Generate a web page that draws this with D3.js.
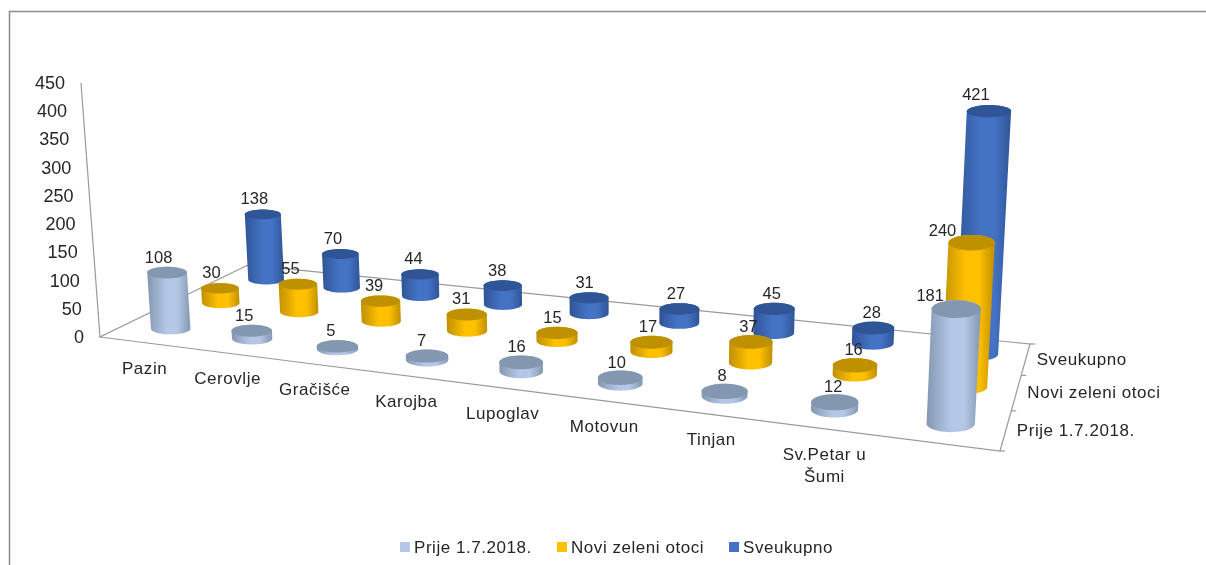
<!DOCTYPE html>
<html>
<head>
<meta charset="utf-8">
<script src="https://cdn.jsdelivr.net/npm/d3@7/dist/d3.min.js"></script>
<style>
  html, body { margin: 0; padding: 0; background: #fff; overflow: hidden; }
  svg { filter: blur(0.4px); }
  text { font-family: "Liberation Sans", Arial, sans-serif; fill: #262626; }
</style>
</head>
<body>
<div id="chart"></div>
<script>
const categories = ["Pazin", "Cerovlje", "Gračišće", "Karojba", "Lupoglav", "Motovun", "Tinjan", "Sv.Petar u|Šumi", ""];
const seriesNames = ["Prije 1.7.2018.", "Novi zeleni otoci", "Sveukupno"];
const prije = [108, 15, 5, 7, 16, 10, 8, 12, 181];
const novi = [30, 55, 39, 31, 15, 17, 37, 16, 240];
const sveukupno = [138, 70, 44, 38, 31, 27, 45, 28, 421];
const valueTicks = [0, 50, 100, 150, 200, 250, 300, 350, 400, 450];

const values = [prije, novi, sveukupno];
const sideEdge = ["#8497b0", "#bf9000", "#2f5597"];
const sideMid = ["#b4c7e7", "#ffc000", "#4472c4"];
const topColor = ["#8497b0", "#bf9000", "#2f5597"];

const width = 1206, height = 565;
const svg = d3.select("#chart").append("svg").attr("width", width).attr("height", height);

// floor corners on screen: front-left, front-right, back-right, back-left
const floor = { fl: [100, 337], fr: [1000, 451], br: [1030, 344], bl: [248, 265] };
const vanish = [624, 7344]; // where the verticals meet
const heightK = -7.45e-5;

// homography unit square -> floor quad
const dx1 = floor.fr[0] - floor.br[0], dy1 = floor.fr[1] - floor.br[1];
const dx2 = floor.bl[0] - floor.br[0], dy2 = floor.bl[1] - floor.br[1];
const sx = floor.fl[0] - floor.fr[0] + floor.br[0] - floor.bl[0];
const sy = floor.fl[1] - floor.fr[1] + floor.br[1] - floor.bl[1];
const det = dx1 * dy2 - dx2 * dy1;
const g = (sx * dy2 - dx2 * sy) / det;
const h = (dx1 * sy - sx * dy1) / det;

function project(u, v, val) {
  const w = 1 + g * u + h * v;
  const nx = (floor.fr[0] * (1 + g) - floor.fl[0]) * u + (floor.bl[0] * (1 + h) - floor.fl[0]) * v + floor.fl[0];
  const ny = (floor.fr[1] * (1 + g) - floor.fl[1]) * u + (floor.bl[1] * (1 + h) - floor.fl[1]) * v + floor.fl[1];
  const t = heightScale(val);
  return [(nx + vanish[0] * t) / (w + t), (ny + vanish[1] * t) / (w + t)];
}

const uScale = d3.scaleBand().domain(categories.map((d, i) => i)).range([0.005, 1.005]);
const vScale = d3.scaleBand().domain(seriesNames).range([0, 1]);
const heightScale = d3.scaleLinear().domain([0, 450]).range([0, 450 * heightK]);
const wallX = d3.scaleLinear().domain([0, 450]).range([100, 81]);
const wallY = d3.scaleLinear().domain([0, 450]).range([337, 83]);

// chart frame, only top and left show in the crop
svg.append("path").attr("d", "M1206,11.5H9.5V565").attr("fill", "none")
  .attr("stroke", "#8c8c8c").attr("stroke-width", 1.5);

// floor edges and wall line
const edges = svg.append("g").attr("stroke", "#9a9a9a").attr("stroke-width", 1.2).attr("fill", "none");
edges.append("path").attr("d", d3.line()([floor.bl, floor.fl, floor.fr, floor.br, floor.bl]));
edges.append("line").attr("x1", wallX(0)).attr("y1", wallY(0)).attr("x2", wallX(450)).attr("y2", wallY(450));
d3.range(4).forEach((i) => {
  const p = project(1, i / 3, 0);
  edges.append("line").attr("x1", p[0]).attr("y1", p[1]).attr("x2", p[0] + 5).attr("y2", p[1]);
});

// value axis labels
svg.append("g").selectAll("text").data(valueTicks).enter().append("text")
  .attr("x", (d) => wallX(d) - 16)
  .attr("y", (d) => wallY(d))
  .attr("text-anchor", "end")
  .attr("dominant-baseline", "central")
  .attr("font-size", 18)
  .text((d) => d);

// category labels under the front edge
categories.forEach((name, i) => {
  const p = project(uScale(i) + uScale.bandwidth() / 2, 0, 0);
  const t = svg.append("text").attr("text-anchor", "middle").attr("font-size", 17).attr("letter-spacing", 0.55);
  name.split("|").forEach((line, k) => {
    t.append("tspan").attr("x", p[0] + 1).attr("y", p[1] + 31 + k * 22).text(line);
  });
});

// series labels along the right edge
seriesNames.forEach((name) => {
  const p = project(1, vScale(name) + vScale.bandwidth() / 2, 0);
  svg.append("text").attr("x", p[0] + 11).attr("y", p[1])
    .attr("dominant-baseline", "central").attr("font-size", 17).attr("letter-spacing", 0.55).text(name);
});

const defs = svg.append("defs");
seriesNames.forEach((name, s) => {
  const grad = defs.append("linearGradient").attr("id", `side${s}`).attr("x1", 0).attr("x2", 1).attr("y1", 0).attr("y2", 0);
  grad.append("stop").attr("offset", "0%").attr("stop-color", sideEdge[s]);
  grad.append("stop").attr("offset", "45%").attr("stop-color", sideMid[s]);
  grad.append("stop").attr("offset", "70%").attr("stop-color", sideMid[s]);
  grad.append("stop").attr("offset", "100%").attr("stop-color", sideEdge[s]);
});

// floor ring that shows as a level ellipse on screen; tall tops get a bit more depth
function ringOffsets(u, v, val) {
  const w = 1 + g * u + h * v;
  const rx = 20 / w, ry = (5.8 / (w * w)) * (1 + val * 0.0015);
  const e = 0.001;
  const p0 = project(u, v, 0), pu = project(u + e, v, 0), pv = project(u, v + e, 0);
  const a = (pu[0] - p0[0]) / e, b = (pv[0] - p0[0]) / e;
  const c = (pu[1] - p0[1]) / e, d = (pv[1] - p0[1]) / e;
  const dt = a * d - b * c;
  return d3.range(48).map((i) => {
    const t = (i / 48) * 2 * Math.PI;
    const ex = rx * Math.cos(t), ey = ry * Math.sin(t);
    return [(d * ex - b * ey) / dt, (a * ey - c * ex) / dt];
  });
}

const lastLabelDx = [-26, -29, -13];
const lastLabelDy = [-14, -13, -17];
const labels = [];

// back row first so the nearer cylinders overlap it
[2, 1, 0].forEach((s) => {
  const v = vScale(seriesNames[s]) + vScale.bandwidth() / 2;
  values[s].forEach((val, i) => {
    const u = uScale(i) + uScale.bandwidth() / 2;
    const base = ringOffsets(u, v, 0).map((o) => project(u + o[0], v + o[1], 0));
    const top = ringOffsets(u, v, val).map((o) => project(u + o[0], v + o[1], val));
    const hull = d3.polygonHull(base.concat(top));
    const cyl = svg.append("g");
    cyl.append("path").attr("d", `M${hull.join("L")}Z`).attr("fill", `url(#side${s})`);
    cyl.append("path").attr("d", `M${top.join("L")}Z`).attr("fill", topColor[s]);
    const c = project(u, v, val);
    const last = i === categories.length - 1;
    labels.push({ x: c[0] + (last ? lastLabelDx[s] : -9 + 9 * u), y: c[1] + (last ? lastLabelDy[s] : -16), val });
  });
});

svg.append("g").selectAll("text").data(labels).enter().append("text")
  .attr("x", (d) => d.x)
  .attr("y", (d) => d.y)
  .attr("text-anchor", "middle")
  .attr("dominant-baseline", "central")
  .attr("font-size", 16.5)
  .text((d) => d.val);

// legend
const legendX = [400, 557, 729];
const legend = svg.append("g").selectAll("g").data(seriesNames).enter().append("g")
  .attr("transform", (d, i) => `translate(${legendX[i]}, 547)`);
legend.append("rect").attr("x", 0).attr("y", -5).attr("width", 10).attr("height", 10)
  .attr("fill", (d, i) => sideMid[i]);
legend.append("text").attr("x", 14).attr("dominant-baseline", "central")
  .attr("font-size", 17).attr("letter-spacing", 0.55).text((d) => d);
</script>
</body>
</html>
